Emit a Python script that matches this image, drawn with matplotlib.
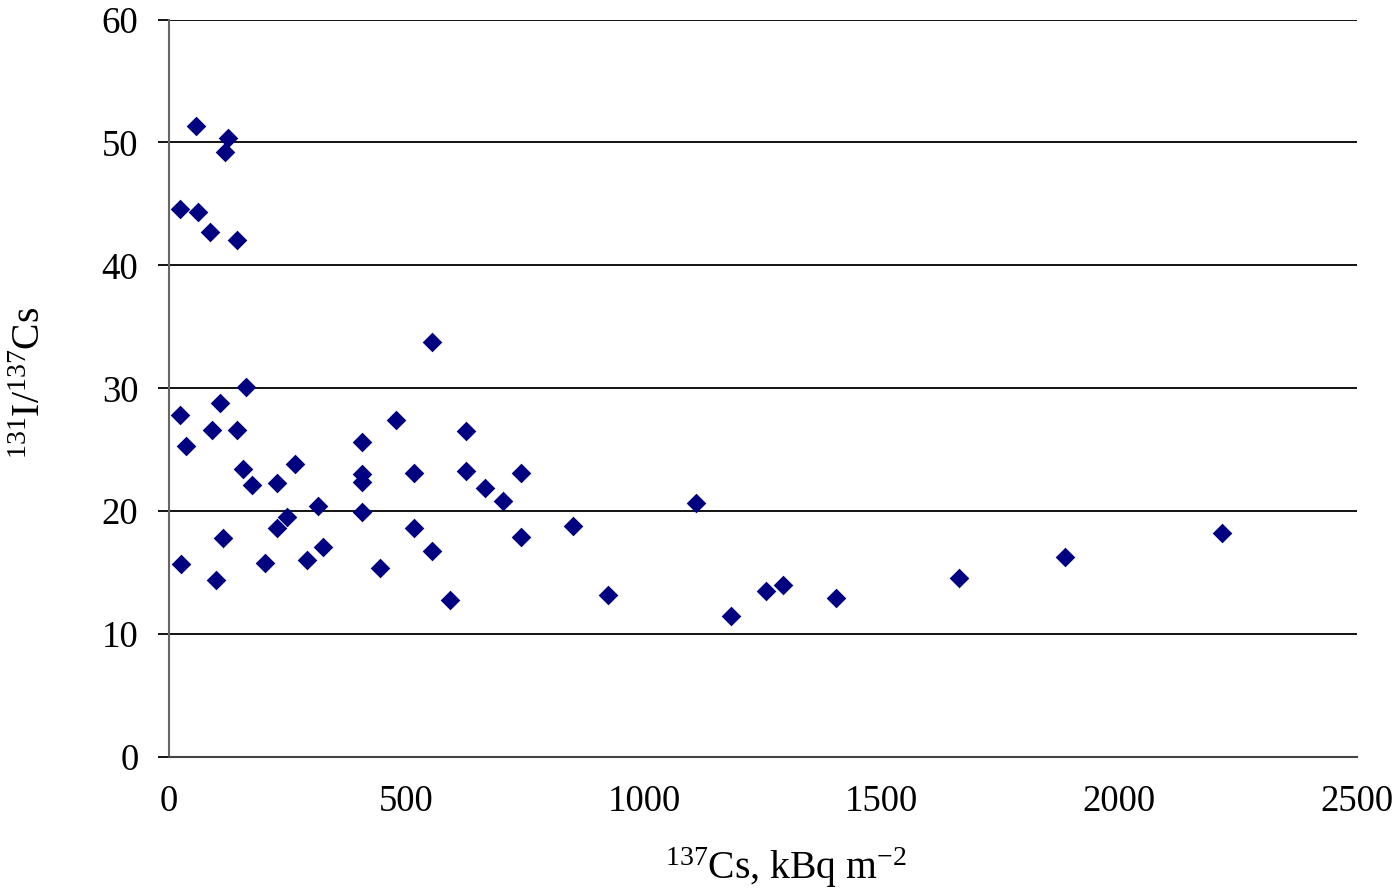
import matplotlib
matplotlib.use("Agg")
import matplotlib.pyplot as plt

plt.rcParams['font.family'] = ['Liberation Serif', 'DejaVu Serif']
plt.rcParams['mathtext.fontset'] = 'custom'
plt.rcParams['mathtext.rm'] = 'Liberation Serif'
plt.rcParams['mathtext.it'] = 'Liberation Serif:italic'
plt.rcParams['mathtext.bf'] = 'Liberation Serif:bold'

cs137 = [57, 125, 117, 23, 60, 87, 144,
         161, 108, 23, 90, 144, 36, 155, 174, 227, 265, 314, 248, 227, 114, 325, 25, 203, 290, 98,
         554, 478, 626, 406, 406, 406, 516, 626, 740, 664, 702, 406, 516, 740, 554, 443, 592,
         850, 924,
         1109, 1183, 1256, 1292, 1404, 1662, 1885, 2216]
ratio = [51.3, 50.4, 49.2, 44.6, 44.3, 42.7, 42.1,
         30.1, 28.8, 27.8, 26.6, 26.6, 25.3, 23.4, 22.1, 22.3, 23.8, 20.4, 19.5, 18.6, 17.8, 17.1, 15.7, 15.8, 16.0, 14.4,
         33.8, 27.4, 26.5, 25.6, 23.0, 22.4, 23.1, 23.3, 23.1, 21.9, 20.8, 19.9, 18.6, 17.9, 16.8, 15.4, 12.8,
         18.8, 13.2,
         20.7, 11.5, 13.5, 14.0, 12.9, 14.6, 16.3, 18.2]

x_ticks = [0, 500, 1000, 1500, 2000, 2500]
y_ticks = [0, 10, 20, 30, 40, 50, 60]

fig = plt.figure(figsize=(14, 8.93), dpi=100)
ax = fig.add_axes([169/1400, 1 - 757/893, (1357-169)/1400, (757-19.5)/893])

ax.scatter(cs137, ratio, marker='D', s=10**2, color='#000080', linewidths=0, zorder=3, clip_on=False)

ax.set_xlim(0, 2500)
ax.set_ylim(0, 60)
ax.set_xticks(x_ticks)
ax.set_yticks(y_ticks)
ax.set_xticks([0, 2500], minor=True)
ax.tick_params(axis='x', which='major', length=0, labelsize=26.5, pad=20, colors='black')
ax.tick_params(axis='x', which='minor', length=8, width=1.3, color='#555555', direction='out')
ax.tick_params(axis='y', which='major', length=8, width=1.3, color='black', labelsize=26.5, pad=14, direction='out')

ax.grid(axis='y', color='black', linewidth=1.3, zorder=1)
ax.set_axisbelow(True)
for side in ('top', 'right'):
    ax.spines[side].set_visible(False)
ax.spines['left'].set_color('#666666')
ax.spines['left'].set_linewidth(1.5)
ax.spines['bottom'].set_color('#444444')
ax.spines['bottom'].set_linewidth(1.5)

ax.set_xlabel(r'$^{137}$Cs, kBq m$^{\mathrm{-2}}$', fontsize=28.5, va='center')
ax.xaxis.set_label_coords((786-169)/1188, (757-868)/737.5)
ax.set_ylabel(r'$^{131}$I/$^{137}$Cs', fontsize=28.5, va='center')
ax.yaxis.set_label_coords((30-169)/1188, (757-383)/737.5)

fig.savefig('out.png', dpi=100)
